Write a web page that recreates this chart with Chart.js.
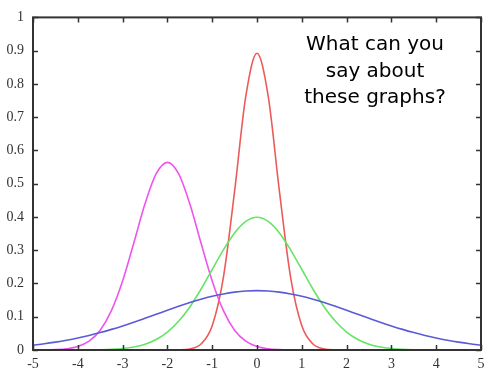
<!DOCTYPE html>
<html>
<head>
<meta charset="utf-8">
<script src="https://cdn.jsdelivr.net/npm/chart.js@4"></script>
<style>
  html, body { margin: 0; padding: 0; background: #fff; }
  #wrap { width: 500px; height: 375px; }
</style>
</head>
<body>
<div id="wrap"><canvas id="chart" width="500" height="375"></canvas></div>
<script>
// x positions (step 0.25 from -5 to 5)
const xValues = [
  -5, -4.75, -4.5, -4.25, -4, -3.75, -3.5, -3.25, -3, -2.75, -2.5, -2.25, -2, -1.75, -1.5, -1.25, -1, -0.75, -0.5, -0.25,
  0, 0.25, 0.5, 0.75, 1, 1.25, 1.5, 1.75, 2, 2.25, 2.5, 2.75, 3, 3.25, 3.5, 3.75, 4, 4.25, 4.5, 4.75, 5
];

// red, narrow peak at 0
const redValues = [
  0, 0, 0, 0, 0, 0, 0, 0, 0, 0, 0, 0, 0, 0.0004, 0.0032, 0.0179, 0.0732, 0.2187, 0.4775, 0.763,
  0.892, 0.763, 0.4775, 0.2187, 0.0732, 0.0179, 0.0032, 0.0004, 0, 0, 0, 0, 0, 0, 0, 0, 0, 0, 0, 0, 0
];

// green, peak 0.4 at 0
const greenValues = [
  0, 0, 0, 0, 0.0001, 0.0004, 0.0009, 0.002, 0.0044, 0.0091, 0.0175, 0.0317, 0.054, 0.0863, 0.1295, 0.1826, 0.242, 0.3011, 0.3521, 0.3867,
  0.399, 0.3867, 0.3521, 0.3011, 0.242, 0.1826, 0.1295, 0.0863, 0.054, 0.0317, 0.0175, 0.0091, 0.0044, 0.002, 0.0009, 0.0004, 0.0001, 0, 0, 0, 0
];

// blue, wide and flat
const blueValues = [
  0.0146, 0.0187, 0.0236, 0.0293, 0.036, 0.0437, 0.0524, 0.062, 0.0725, 0.0837, 0.0955, 0.1075, 0.1196, 0.1313, 0.1425, 0.1526, 0.1614, 0.1686, 0.174, 0.1773,
  0.1784, 0.1773, 0.174, 0.1686, 0.1614, 0.1526, 0.1425, 0.1313, 0.1196, 0.1075, 0.0955, 0.0837, 0.0725, 0.062, 0.0524, 0.0437, 0.036, 0.0293, 0.0236, 0.0187, 0.0146
];

// magenta, peak at -2
const magentaValues = [
  0.0001, 0.0003, 0.0011, 0.0036, 0.0103, 0.0264, 0.0595, 0.1183, 0.2076, 0.3215, 0.4394, 0.53, 0.5642, 0.53, 0.4394, 0.3215, 0.2076, 0.1183, 0.0595, 0.0264,
  0.0103, 0.0036, 0.0011, 0.0003, 0.0001, 0, 0, 0, 0, 0, 0, 0, 0, 0, 0, 0, 0, 0, 0, 0, 0
];

const questionLines = ['What can you', 'say about', 'these graphs?'];

function toPoints(ys) {
  return xValues.map((x, i) => ({ x: x, y: ys[i] }));
}

function line(data, color) {
  return {
    data: toPoints(data),
    borderColor: color,
    borderWidth: 1.6,
    pointRadius: 0,
    fill: false,
    cubicInterpolationMode: 'monotone'
  };
}

// frame box with inward ticks + question text
const framePlugin = {
  id: 'frame',
  afterDraw(chart) {
    const ctx = chart.ctx;
    const a = chart.chartArea;
    const xs = chart.scales.x, ys = chart.scales.y;
    ctx.save();
    ctx.strokeStyle = '#333';
    ctx.lineWidth = 1.5;
    xs.ticks.forEach(t => {
      const px = Math.round(xs.getPixelForValue(t.value)) + 0.5;
      ctx.beginPath();
      ctx.moveTo(px, a.bottom); ctx.lineTo(px, a.bottom - 5);
      ctx.moveTo(px, a.top); ctx.lineTo(px, a.top + 5);
      ctx.stroke();
    });
    ys.ticks.forEach(t => {
      const py = Math.round(ys.getPixelForValue(t.value)) + 0.5;
      ctx.beginPath();
      ctx.moveTo(a.left, py); ctx.lineTo(a.left + 5, py);
      ctx.moveTo(a.right, py); ctx.lineTo(a.right - 5, py);
      ctx.stroke();
    });
    ctx.lineWidth = 2;
    ctx.strokeRect(a.left, a.top, a.right - a.left, a.bottom - a.top);

    ctx.fillStyle = '#000';
    ctx.font = '20px "DejaVu Sans"';
    ctx.textAlign = 'center';
    ctx.textBaseline = 'middle';
    questionLines.forEach((s, i) => ctx.fillText(s, 375, 45 + i * 26.5));
    ctx.restore();
  }
};

new Chart(document.getElementById('chart').getContext('2d'), {
  type: 'line',
  data: {
    datasets: [
      line(blueValues, '#5a5ad8'),
      line(greenValues, '#66e466'),
      line(magentaValues, '#ee55ee'),
      line(redValues, '#ec5a5a')
    ]
  },
  options: {
    responsive: false,
    animation: false,
    layout: { padding: { top: 15, right: 19, left: 0, bottom: 0 } },
    plugins: { legend: { display: false }, tooltip: { enabled: false } },
    scales: {
      x: {
        type: 'linear',
        min: -5, max: 5,
        ticks: { stepSize: 1, color: '#333', font: { family: 'Liberation Serif', size: 14 }, padding: 6 },
        grid: { display: false, drawTicks: false },
        border: { display: false },
        afterFit(s) { s.height = 25; }
      },
      y: {
        min: 0, max: 1,
        ticks: {
          stepSize: 0.1, color: '#333', font: { family: 'Liberation Serif', size: 14 }, padding: 9,
          callback: v => String(Math.round(v * 10) / 10)
        },
        grid: { display: false, drawTicks: false },
        border: { display: false },
        afterFit(s) { s.width = 33; }
      }
    }
  },
  plugins: [framePlugin]
});
</script>
</body>
</html>
